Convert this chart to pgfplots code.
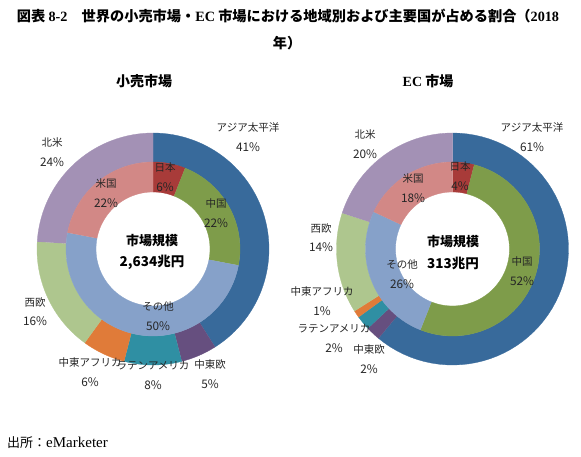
\documentclass[border=0pt]{standalone}
\usepackage{fontspec}
\setmainfont{Noto Sans CJK JP}
\newfontfamily\serifb{Liberation Serif}
\usepackage{pgfplots}
\pgfplotsset{compat=1.18}

\definecolor{asia}{HTML}{386A9B}
\definecolor{cee}{HTML}{664F7F}
\definecolor{latam}{HTML}{2F8FA3}
\definecolor{mea}{HTML}{E07B39}
\definecolor{weu}{HTML}{AEC68E}
\definecolor{nam}{HTML}{A391B5}
\definecolor{jp}{HTML}{A83B39}
\definecolor{cn}{HTML}{7E9C4A}
\definecolor{oth}{HTML}{86A1C9}
\definecolor{us}{HTML}{D28886}
\definecolor{lblc}{HTML}{262626}

% ring segment: cx cy rin rout start% end% colour
\newcommand{\seg}[7]{%
\addplot[fill=#7, draw=#7, line width=0.3pt, variable=\t, domain=0:3, samples=181]
 ({#1+(#4-(#4-#3)*min(max(\t-1,0),1))*cos(90-3.6*(#5+(#6-#5)*(min(max(\t,0),1)-min(max(\t-2,0),1))))},
  {#2+(#4-(#4-#3)*min(max(\t-1,0),1))*sin(90-3.6*(#5+(#6-#5)*(min(max(\t,0),1)-min(max(\t-2,0),1))))});
}
\newcommand{\lblfont}{\fontsize{10.5}{12}\selectfont}
\newcommand{\pctfont}{\fontsize{11.8}{13}\selectfont}
\newcommand{\lbl}[4]{%
\node[font=\lblfont, text=lblc, inner sep=0pt] at (axis cs:#1,{456-#2}) {#3};
\node[font=\pctfont, text=lblc, inner sep=0pt] at (axis cs:#1,{456-#2-19.5}) {#4};
}

\begin{document}
\begin{tikzpicture}
\useasboundingbox (0,0) rectangle (581pt,456pt);
\begin{axis}[at={(0,0)}, anchor=south west, scale only axis,
  width=581pt, height=456pt, xmin=0, xmax=581, ymin=0, ymax=456,
  hide axis, clip=false]
% ---- left: retail, outer ring (regions, %)
\seg{153}{207}{87}{116}{0}{41}{asia}
\seg{153}{207}{87}{116}{41}{46}{cee}
\seg{153}{207}{87}{116}{46}{54}{latam}
\seg{153}{207}{87}{116}{54}{60}{mea}
\seg{153}{207}{87}{116}{60}{76}{weu}
\seg{153}{207}{87}{116}{76}{100}{nam}
% inner ring (countries, %)
\seg{153}{207}{57}{87}{0}{6}{jp}
\seg{153}{207}{57}{87}{6}{28}{cn}
\seg{153}{207}{57}{87}{28}{78}{oth}
\seg{153}{207}{57}{87}{78}{100}{us}
% ---- right: EC, outer ring
\seg{452.5}{207}{87}{116}{0}{61}{asia}
\seg{452.5}{207}{87}{116}{61}{63}{cee}
\seg{452.5}{207}{87}{116}{63}{65}{latam}
\seg{452.5}{207}{87}{116}{65}{66}{mea}
\seg{452.5}{207}{87}{116}{66}{80}{weu}
\seg{452.5}{207}{87}{116}{80}{100}{nam}
% inner ring
\seg{452.5}{207}{57}{87}{0}{4}{jp}
\seg{452.5}{207}{57}{87}{4}{56}{cn}
\seg{452.5}{207}{57}{87}{56}{82}{oth}
\seg{452.5}{207}{57}{87}{82}{100}{us}

% labels left
\lbl{248}{128}{アジア太平洋}{41\%}
\lbl{52}{143}{北米}{24\%}
\lbl{165}{168}{日本}{6\%}
\lbl{216}{204}{中国}{22\%}
\lbl{106}{184}{米国}{22\%}
\lbl{158}{307}{その他}{50\%}
\lbl{35}{302}{西欧}{16\%}
\lbl{90}{363}{中東アフリカ}{6\%}
\lbl{153}{366}{ラテンアメリカ}{8\%}
\lbl{210}{365}{中東欧}{5\%}
% labels right
\lbl{532}{128}{アジア太平洋}{61\%}
\lbl{365}{135}{北米}{20\%}
\lbl{460}{167}{日本}{4\%}
\lbl{413}{179}{米国}{18\%}
\lbl{522}{262}{中国}{52\%}
\lbl{402}{265}{その他}{26\%}
\lbl{321}{228}{西欧}{14\%}
\lbl{322}{292}{中東アフリカ}{1\%}
\lbl{334}{329}{ラテンアメリカ}{2\%}
\lbl{369}{350}{中東欧}{2\%}

% centre texts
\node[font=\fontsize{13}{15}\selectfont\bfseries, inner sep=0pt] at (axis cs:152,{456-241}) {市場規模};
\node[font=\fontsize{13.5}{15}\selectfont\bfseries, inner sep=0pt] at (axis cs:152,{456-262}) {2,634兆円};
\node[font=\fontsize{13}{15}\selectfont\bfseries, inner sep=0pt] at (axis cs:453,{456-242}) {市場規模};
\node[font=\fontsize{13.5}{15}\selectfont\bfseries, inner sep=0pt] at (axis cs:453,{456-263}) {313兆円};

% titles
\node[font=\fontsize{14.2}{16}\selectfont\bfseries, inner sep=0pt] at (axis cs:288,{456-16})
  {図表 {\serifb 8-2}\hspace{1em}世界の小売市場・{\serifb EC} 市場における地域別および主要国が占める割合（{\serifb 2018}};
\node[font=\fontsize{14.2}{16}\selectfont\bfseries, inner sep=0pt] at (axis cs:287,{456-43}) {年）};
\node[font=\fontsize{14}{16}\selectfont\bfseries, inner sep=0pt] at (axis cs:144,{456-81}) {小売市場};
\node[font=\fontsize{14}{16}\selectfont\bfseries, inner sep=0pt] at (axis cs:428,{456-81}) {{\serifb EC} 市場};
% source
\node[font=\fontsize{13}{15}\selectfont, anchor=west, inner sep=0pt] at (axis cs:7,{456-443})
  {出所：{\serifb\fontsize{15}{17}\selectfont eMarketer}};
\end{axis}
\end{tikzpicture}
\end{document}
